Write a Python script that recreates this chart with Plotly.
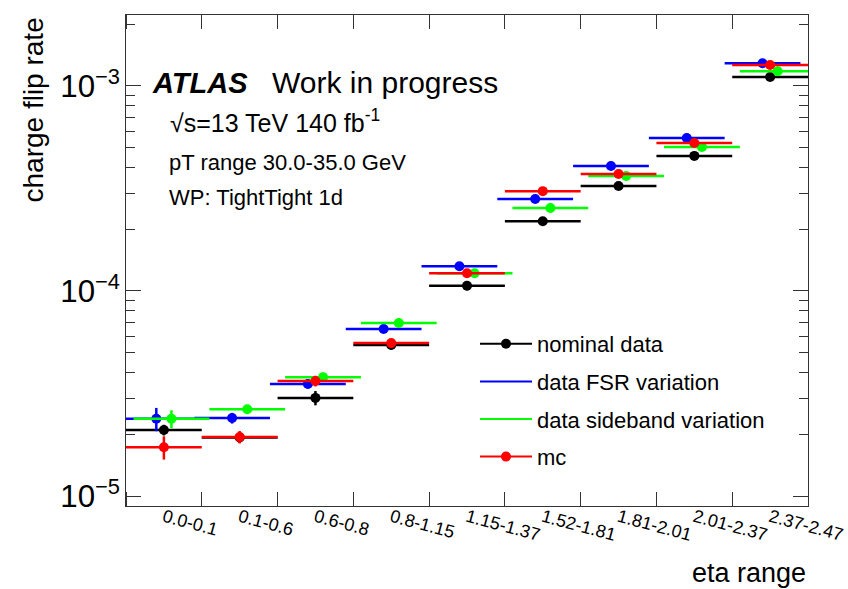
import plotly.graph_objects as go

# ---------------- data ----------------
eta_bins = ["0.0-0.1", "0.1-0.6", "0.6-0.8", "0.8-1.15", "1.15-1.37",
            "1.52-1.81", "1.81-2.01", "2.01-2.37", "2.37-2.47"]

nominal = [2.10e-5, 1.93e-5, 3.01e-5, 5.45e-5, 1.06e-4, 2.19e-4, 3.25e-4, 4.56e-4, 1.106e-3]
fsr     = [2.38e-5, 2.40e-5, 3.52e-5, 6.53e-5, 1.32e-4, 2.81e-4, 4.07e-4, 5.57e-4, 1.29e-3]
sideband= [2.38e-5, 2.65e-5, 3.80e-5, 6.98e-5, 1.22e-4, 2.54e-4, 3.64e-4, 5.04e-4, 1.18e-3]
mc      = [1.73e-5, 1.94e-5, 3.64e-5, 5.57e-5, 1.22e-4, 3.07e-4, 3.72e-4, 5.27e-4, 1.265e-3]

nominal_rel = [0.06, 0.06, 0.08, 0.05, 0.05, 0.04, 0.04, 0.04, 0.03]
fsr_rel     = [0.13, 0.06, 0.05, 0.04, 0.04, 0.04, 0.03, 0.03, 0.03]
sideband_rel= [0.10, 0.05, 0.05, 0.04, 0.04, 0.03, 0.03, 0.03, 0.03]
mc_rel      = [0.13, 0.07, 0.06, 0.04, 0.03, 0.03, 0.03, 0.03, 0.02]

series = [
    ("nominal data", nominal, nominal_rel, "black", 0.0, True),
    ("data FSR variation", fsr, fsr_rel, "#0000ff", -0.1, False),
    ("data sideband variation", sideband, sideband_rel, "#00ff00", 0.1, False),
    ("mc", mc, mc_rel, "#ff0000", 0.0, True),
]

# ---------------- geometry helpers ----------------
W, H = 848, 589
L, R, T, B = 126, 40, 15, 83
PW, PH = W - L - R, H - T - B


def px_x(px):
    return (px - L) / PW


def px_y(py):
    return (H - B - py) / PH


FONT = "Liberation Sans, Arial, Helvetica, sans-serif"

fig = go.Figure()

n = len(eta_bins)
for name, vals, rel, col, off, legmarker in series:
    xs = [i + 0.5 + off for i in range(n)]
    errs = [v * r for v, r in zip(vals, rel)]
    fig.add_trace(go.Scatter(
        x=xs, y=vals, mode="markers",
        marker=dict(color=col, size=10, symbol="circle"),
        error_x=dict(type="constant", value=0.5, color=col, thickness=2.5, width=0),
        error_y=dict(type="data", array=errs, color=col, thickness=2.5, width=0),
        showlegend=False, hoverinfo="skip",
    ))

# legend entries
for name, vals, rel, col, off, legmarker in series:
    fig.add_trace(go.Scatter(
        x=[None], y=[None],
        mode="lines+markers" if legmarker else "lines",
        line=dict(color=col, width=2),
        marker=dict(color=col, size=10),
        name=name, legendgroup=name, showlegend=True,
    ))

fig.update_layout(
    width=W, height=H,
    margin=dict(l=L, r=R, t=T, b=B, pad=0, autoexpand=False),
    paper_bgcolor="white", plot_bgcolor="white",
    font=dict(family=FONT, color="black"),
    showlegend=True,
    legend=dict(
        x=px_x(475), y=px_y(323), xanchor="left", yanchor="top",
        bgcolor="rgba(0,0,0,0)", borderwidth=0,
        font=dict(family=FONT, size=22, color="black"),
        itemwidth=52, tracegroupgap=6, traceorder="grouped",
    ),
)

fig.update_xaxes(
    range=[0, n],
    automargin=False,
    tickmode="array",
    tickvals=[i + 0.5 for i in range(n)],
    ticktext=eta_bins,
    tickangle=15,
    ticks="",
    ticklabelstandoff=-7,
    tickfont=dict(family=FONT, size=18, color="black"),
    showline=True, linecolor="#333", linewidth=1, mirror="allticks",
    showgrid=False, zeroline=False,
    minor=dict(ticks="inside", ticklen=14, tickcolor="#333", tickwidth=1,
               tickmode="linear", tick0=0, dtick=1, showgrid=False),
)

fig.update_yaxes(
    type="log",
    automargin=False,
    range=[-5.0488, -2.6537],
    dtick=1,
    exponentformat="power",
    ticks="inside", ticklen=15, tickcolor="#333", tickwidth=1,
    tickfont=dict(family=FONT, size=25, color="black"),
    showline=True, linecolor="#333", linewidth=1, mirror="allticks",
    showgrid=False, zeroline=False,
    minor=dict(ticks="inside", ticklen=9, tickcolor="#333", tickwidth=1,
               dtick="D1", showgrid=False),
)

ann = []
ann.append(dict(text="<b><i>ATLAS</i></b>", x=px_x(150), y=px_y(83),
                xanchor="left", yanchor="middle", showarrow=False,
                font=dict(family=FONT, size=29)))
ann.append(dict(text="Work in progress", x=px_x(270), y=px_y(83),
                xanchor="left", yanchor="middle", showarrow=False,
                font=dict(family=FONT, size=30)))
ann.append(dict(text="√s=13 TeV 140 fb<sup>-1</sup>", x=px_x(168), y=px_y(121),
                xanchor="left", yanchor="middle", showarrow=False,
                font=dict(family=FONT, size=25)))
ann.append(dict(text="pT range 30.0-35.0 GeV", x=px_x(167), y=px_y(162),
                xanchor="left", yanchor="middle", showarrow=False,
                font=dict(family=FONT, size=22)))
ann.append(dict(text="WP: TightTight 1d", x=px_x(167), y=px_y(197),
                xanchor="left", yanchor="middle", showarrow=False,
                font=dict(family=FONT, size=22)))
ann.append(dict(text="charge flip rate", textangle=-90, x=px_x(33), y=px_y(16),
                xanchor="center", yanchor="top", showarrow=False,
                font=dict(family=FONT, size=28)))
ann.append(dict(text="eta range", x=1.0, y=px_y(573),
                xanchor="right", yanchor="middle", showarrow=False,
                font=dict(family=FONT, size=27)))
for a in ann:
    a["xref"] = "paper"
    a["yref"] = "paper"
fig.update_layout(annotations=ann)

fig.write_html("out.html")
